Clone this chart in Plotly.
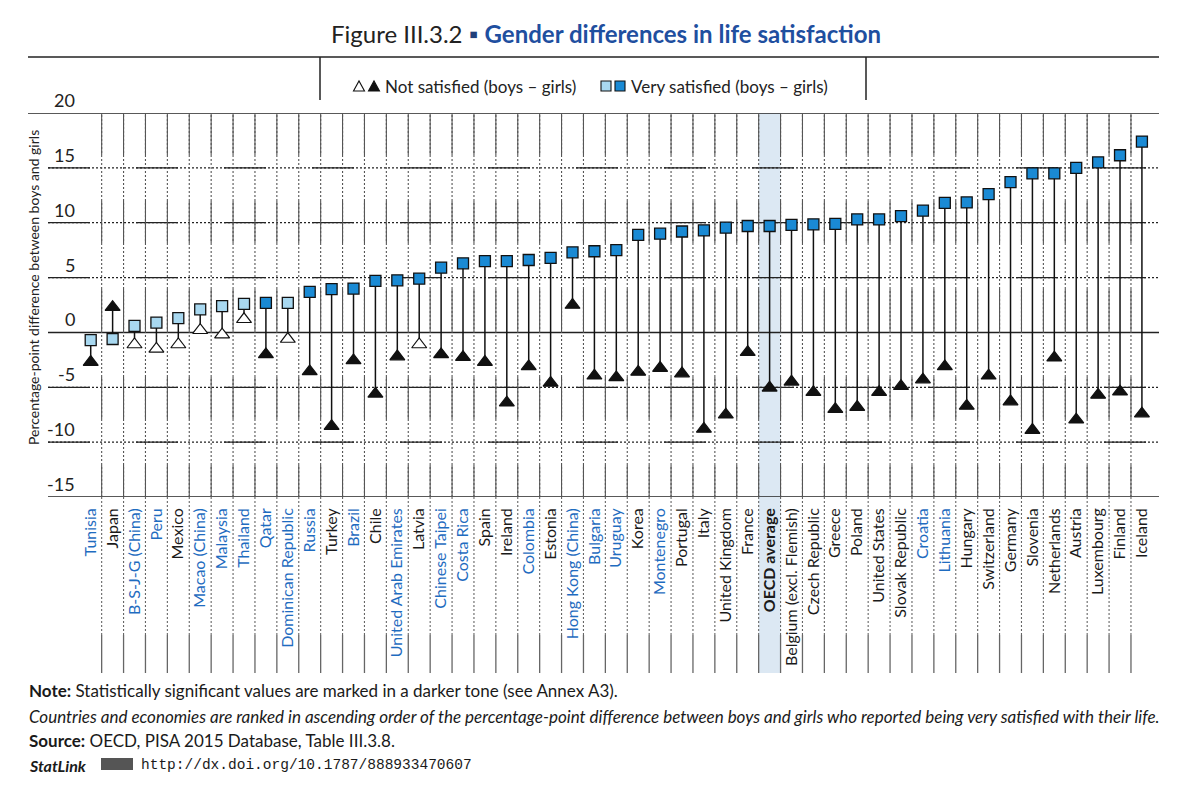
import plotly.graph_objects as go

# ---------------- data ----------------
countries = ["Tunisia", "Japan", "B-S-J-G (China)", "Peru", "Mexico", "Macao (China)", "Malaysia",
             "Thailand", "Qatar", "Dominican Republic", "Russia", "Turkey", "Brazil", "Chile",
             "United Arab Emirates", "Latvia", "Chinese Taipei", "Costa Rica", "Spain", "Ireland",
             "Colombia", "Estonia", "Hong Kong (China)", "Bulgaria", "Uruguay", "Korea", "Montenegro",
             "Portugal", "Italy", "United Kingdom", "France", "OECD average", "Belgium (excl. Flemish)",
             "Czech Republic", "Greece", "Poland", "United States", "Slovak Republic", "Croatia",
             "Lithuania", "Hungary", "Switzerland", "Germany", "Slovenia", "Netherlands", "Austria",
             "Luxembourg", "Finland", "Iceland"]

very_satisfied = [-0.7, -0.6, 0.6, 0.9, 1.3, 2.1, 2.4, 2.6, 2.7, 2.7, 3.7, 3.95, 4.0, 4.7, 4.75,
                  4.9, 5.9, 6.3, 6.5, 6.5, 6.6, 6.8, 7.3, 7.4, 7.5, 8.9, 9.0, 9.2, 9.3, 9.55, 9.7,
                  9.7, 9.8, 9.85, 9.9, 10.3, 10.3, 10.6, 11.1, 11.8, 11.85, 12.6, 13.7, 14.5, 14.5,
                  15.0, 15.5, 16.15, 17.4]

not_satisfied = [-2.7, 2.3, -1.1, -1.5, -1.1, 0.2, -0.2, 1.2, -2.0, -0.6, -3.55, -8.55, -2.55,
                 -5.6, -2.2, -1.1, -2.0, -2.25, -2.7, -6.4, -3.1, -4.6, 2.5, -3.95, -4.1, -3.6,
                 -3.25, -3.75, -8.8, -7.5, -1.8, -5.05, -4.5, -5.45, -7.0, -6.8, -5.45, -4.9, -4.3,
                 -3.1, -6.7, -3.95, -6.3, -8.9, -2.3, -7.95, -5.7, -5.4, -7.4]

# statistical significance (1 = significant, darker tone)
very_sig = [0, 0, 0, 0, 0, 0, 0, 0, 1, 0] + [1] * 39
not_sig = [1, 1, 0, 0, 0, 0, 0, 0, 1, 0, 1, 1, 1, 1, 1, 0] + [1] * 33

# partner economies (blue labels)
partners = ["Tunisia", "B-S-J-G (China)", "Peru", "Macao (China)", "Malaysia", "Thailand", "Qatar",
            "Dominican Republic", "Russia", "Brazil", "United Arab Emirates", "Chinese Taipei",
            "Costa Rica", "Colombia", "Hong Kong (China)", "Bulgaria", "Uruguay", "Montenegro",
            "Croatia", "Lithuania"]

y_ticks = [20, 15, 10, 5, 0, -5, -10, -15]

# ---------------- geometry helpers ----------------
# the page body has an 8px margin, so the figure is drawn 8px in from the window edge
OFF = 8
WIN_W, WIN_H = 1200, 787
W, H = WIN_W - 2 * OFF, WIN_H - 2 * OFF
# plot area in window pixel coordinates
L, R, T, B = 48, 1159, 113, 497
PW, PH = R - L, B - T


def PX(px):
    return (px - L) / PW


def PY(py):
    return (B - py) / PH


n = len(countries)
xs = list(range(n))
X_RANGE = [-1.95, 48.78]

FONT = "Lato, 'Liberation Sans', Arial, sans-serif"
BLUE_LABEL = "#1f6cc0"
DARK_SQ = "#1a8ad4"
LIGHT_SQ = "#a8d8f0"

fig = go.Figure()

# stems
stem_x, stem_y = [], []
for i in xs:
    stem_x += [i, i, None]
    stem_y += [not_satisfied[i], very_satisfied[i], None]
fig.add_trace(go.Scatter(x=stem_x, y=stem_y, mode="lines",
                         line=dict(color="#111111", width=1.5), hoverinfo="skip", showlegend=False))

# not satisfied triangles
fig.add_trace(go.Scatter(
    x=xs, y=not_satisfied, mode="markers", showlegend=False, name="Not satisfied (boys – girls)",
    marker=dict(symbol="triangle-up", size=13,
                color=["#111111" if s else "#ffffff" for s in not_sig],
                line=dict(color="#111111", width=1.2))))

# very satisfied squares
fig.add_trace(go.Scatter(
    x=xs, y=very_satisfied, mode="markers", showlegend=False, name="Very satisfied (boys – girls)",
    marker=dict(symbol="square", size=11,
                color=[DARK_SQ if s else LIGHT_SQ for s in very_sig],
                line=dict(color="#111111", width=1.3))))

shapes = []
# OECD average band
oi = countries.index("OECD average")
shapes.append(dict(type="rect", xref="x", yref="paper", x0=oi - 0.5, x1=oi + 0.5,
                   y0=PY(673), y1=1, fillcolor="#dce8f3", line=dict(width=0), layer="below"))

dots = "2px,2px"
long_dash = "42px,46px"

# horizontal grid lines
for v in y_ticks:
    if v in (20, -15, 0):
        x0 = PX(28) if v == 20 else 0
        shapes.append(dict(type="line", xref="paper", yref="y", x0=x0, x1=1, y0=v, y1=v,
                           line=dict(color="#222222", width=1.5), layer="below"))
    else:
        shapes.append(dict(type="line", xref="paper", yref="y", x0=0, x1=1, y0=v, y1=v,
                           line=dict(color="#222222", width=1.3, dash=dots), layer="below"))
        shapes.append(dict(type="line", xref="paper", yref="y", x0=0, x1=1, y0=v, y1=v,
                           line=dict(color="#222222", width=1.3, dash=long_dash), layer="below"))

# vertical column separators
for i in range(n - 1):
    xv = i + 0.5
    shapes.append(dict(type="line", xref="x", yref="paper", x0=xv, x1=xv, y0=0, y1=1,
                       line=dict(color="#555555", width=1.1, dash=dots), layer="below"))
    shapes.append(dict(type="line", xref="x", yref="paper", x0=xv, x1=xv, y0=1, y1=0,
                       line=dict(color="#555555", width=1.1, dash=long_dash), layer="below"))
    shapes.append(dict(type="line", xref="x", yref="paper", x0=xv, x1=xv, y0=0, y1=PY(635),
                       line=dict(color="#666666", width=1.1, dash=dots), layer="below"))
    shapes.append(dict(type="line", xref="x", yref="paper", x0=xv, x1=xv, y0=PY(635), y1=PY(673),
                       line=dict(color="#666666", width=1.3), layer="below"))

# title underline and legend box
shapes.append(dict(type="line", xref="paper", yref="paper", x0=PX(28), x1=1, y0=PY(57), y1=PY(57),
                   line=dict(color="#222222", width=1.5)))
for lx in (320, 866):
    shapes.append(dict(type="line", xref="paper", yref="paper", x0=PX(lx), x1=PX(lx),
                       y0=PY(57), y1=PY(100), line=dict(color="#222222", width=1.5)))


def tri_path(cx, cy, w=11, h=10):
    pts = [(cx - w / 2, cy + h / 2), (cx + w / 2, cy + h / 2), (cx, cy - h / 2)]
    return "M " + " L ".join(f"{PX(x):.5f},{PY(y):.5f}" for x, y in pts) + " Z"


LEG_Y = 86
shapes.append(dict(type="path", xref="paper", yref="paper", path=tri_path(359, LEG_Y),
                   fillcolor="#ffffff", line=dict(color="#111111", width=1.1)))
shapes.append(dict(type="path", xref="paper", yref="paper", path=tri_path(374, LEG_Y),
                   fillcolor="#111111", line=dict(color="#111111", width=1.1)))
for cx, col in ((606, LIGHT_SQ), (620, DARK_SQ)):
    shapes.append(dict(type="rect", xref="paper", yref="paper", x0=PX(cx - 5), x1=PX(cx + 5),
                       y0=PY(LEG_Y + 5), y1=PY(LEG_Y - 5), fillcolor=col,
                       line=dict(color="#111111", width=1.1)))

# StatLink icon
shapes.append(dict(type="rect", xref="paper", yref="paper", x0=PX(101), x1=PX(133),
                   y0=PY(770), y1=PY(758), fillcolor="#555555", line=dict(width=0)))

annotations = []
# y tick labels above lines
for v in y_ticks:
    annotations.append(dict(xref="paper", yref="y", x=PX(77), y=v, text=str(v), showarrow=False,
                            xanchor="right", yanchor="bottom", yshift=0,
                            font=dict(family=FONT, size=18, color="#222222")))

# y-axis title
annotations.append(dict(xref="paper", yref="paper", x=PX(33), y=PY(288),
                        text="Percentage-point difference between boys and girls",
                        textangle=-90, showarrow=False, xanchor="center", yanchor="middle",
                        font=dict(family=FONT, size=14, color="#222222")))

# title
annotations.append(dict(xref="paper", yref="paper", x=PX(606), y=PY(33),
                        text="Figure III.3.2 <span style='color:#1f3f7a'>▪</span> "
                             "<b><span style='color:#1f4f9f'>Gender differences in life satisfaction</span></b>",
                        showarrow=False, xanchor="center", yanchor="middle",
                        font=dict(family=FONT, size=24, color="#222222")))

# legend texts
annotations.append(dict(xref="paper", yref="paper", x=PX(383), y=PY(LEG_Y),
                        text="Not satisfied (boys – girls)", showarrow=False,
                        xanchor="left", yanchor="middle",
                        font=dict(family=FONT, size=17, color="#222222")))
annotations.append(dict(xref="paper", yref="paper", x=PX(629), y=PY(LEG_Y),
                        text="Very satisfied (boys – girls)", showarrow=False,
                        xanchor="left", yanchor="middle",
                        font=dict(family=FONT, size=17, color="#222222")))

# notes
notes = [
    (690, "<b>Note:</b> Statistically significant values are marked in a darker tone (see Annex A3)."),
    (716, "<i>Countries and economies are ranked in ascending order of the percentage-point difference "
          "between boys and girls who reported being very satisfied with their life.</i>"),
    (740, "<b>Source:</b> OECD, PISA 2015 Database, Table III.3.8."),
]
for py, txt in notes:
    annotations.append(dict(xref="paper", yref="paper", x=PX(27), y=PY(py), text=txt,
                            showarrow=False, xanchor="left", yanchor="middle",
                            font=dict(family=FONT, size=17, color="#1a1a1a")))
annotations.append(dict(xref="paper", yref="paper", x=PX(27), y=PY(765), text="<b><i>StatLink</i></b>",
                        showarrow=False, xanchor="left", yanchor="middle",
                        font=dict(family=FONT, size=16, color="#1a1a1a")))
annotations.append(dict(xref="paper", yref="paper", x=PX(139), y=PY(765),
                        text="http://dx.doi.org/10.1787/888933470607",
                        showarrow=False, xanchor="left", yanchor="middle",
                        font=dict(family="'Liberation Mono', 'DejaVu Sans Mono', monospace",
                                  size=14.5, color="#1a1a1a")))

# category tick labels
ticktext = []
for c in countries:
    if c == "OECD average":
        ticktext.append("<b>" + c + "</b>")
    elif c in partners:
        ticktext.append(f"<span style='color:{BLUE_LABEL}'>{c}</span>")
    else:
        ticktext.append(c)

fig.update_layout(
    width=W, height=H,
    margin=dict(l=L - OFF, r=W - (R - OFF), t=T - OFF, b=H - (B - OFF), pad=0),
    paper_bgcolor="white", plot_bgcolor="rgba(0,0,0,0)",
    shapes=shapes, annotations=annotations, showlegend=False,
    xaxis=dict(range=X_RANGE, tickmode="array", tickvals=xs, ticktext=ticktext, tickangle=-90,
               showgrid=False, zeroline=False, showline=False, ticks="",
               ticklabelstandoff=7,
               tickfont=dict(family=FONT, size=16, color="#1a1a1a"), fixedrange=True),
    yaxis=dict(range=[-15, 20], showgrid=False, zeroline=False, showline=False,
               showticklabels=False, ticks="", fixedrange=True),
)

fig.write_html("out.html")
